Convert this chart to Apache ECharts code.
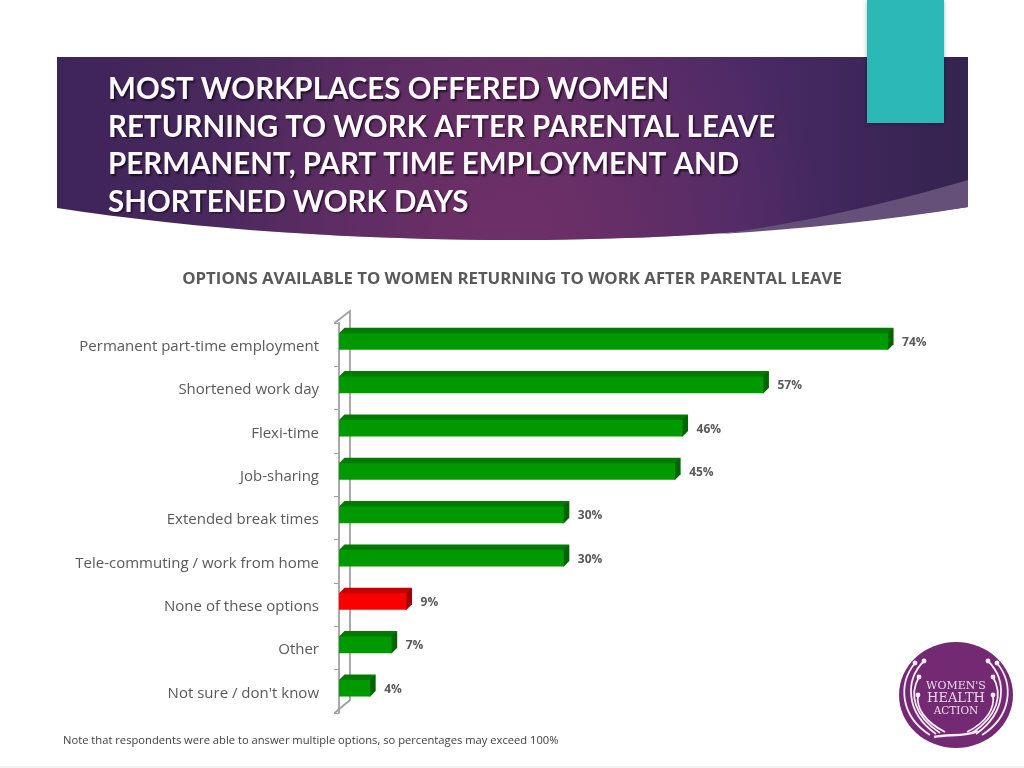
<!DOCTYPE html>
<html>
<head>
<meta charset="utf-8">
<title>Options available to women returning to work</title>
<script src="https://cdn.jsdelivr.net/npm/echarts@6/dist/echarts.min.js"></script>
<style>
  html, body { margin: 0; padding: 0; background: #fff; }
  #main { width: 1024px; height: 768px; }
</style>
</head>
<body>
<div id="main"></div>
<script>
var categories = [
  'Permanent part-time employment',
  'Shortened work day',
  'Flexi-time',
  'Job-sharing',
  'Extended break times',
  'Tele-commuting / work from home',
  'None of these options',
  'Other',
  "Not sure / don't know"
];
// labels show them rounded
var percentages = [74, 57.2, 46.3, 45.3, 30.3, 30.3, 9.1, 7.1, 4.2];
var highlighted = 'None of these options';

var headline = [
  'MOST WORKPLACES OFFERED WOMEN',
  'RETURNING TO WORK AFTER PARENTAL LEAVE',
  'PERMANENT, PART TIME EMPLOYMENT AND',
  'SHORTENED WORK DAYS'
];
var chartTitle = 'OPTIONS AVAILABLE TO WOMEN RETURNING TO WORK AFTER PARENTAL LEAVE';
var footnote = 'Note that respondents were able to answer multiple options, so percentages may exceed 100%';
var logoLines = ["WOMEN'S", 'HEALTH', 'ACTION'];

var green = { front: '#009a00', top: '#007a00', side: '#006400' };
var red = { front: '#fb0000', top: '#c80000', side: '#a00000' };
var depth = 5.5;

// 3d looking bar, drawn from the axis scales
function renderBar(params, api) {
  var i = api.value(1);
  var start = api.coord([0, i]);
  var end = api.coord([api.value(0), i]);
  var top = start[1] - 11.4;
  var h = 16.6;
  var c = categories[i] === highlighted ? red : green;
  return {
    type: 'group',
    children: [
      // top and side run 1px under the front face so no seam shows
      { type: 'polygon', shape: { points: [[start[0], top + 1], [start[0], top], [start[0] + depth, top - depth], [end[0] + depth, top - depth], [end[0], top + 1]] }, style: { fill: c.top } },
      { type: 'polygon', shape: { points: [[end[0] - 1, top], [end[0] + depth, top - depth], [end[0] + depth, top + h - depth], [end[0], top + h], [end[0] - 1, top + h]] }, style: { fill: c.side } },
      { type: 'rect', shape: { x: start[0], y: top, width: end[0] - start[0], height: h }, style: { fill: c.front } },
      { type: 'text', x: end[0] + 14, y: top + h / 2 + 1, style: { text: Math.round(api.value(0)) + '%', font: 'bold 12px "Open Sans"', fill: '#595959', verticalAlign: 'middle' } }
    ]
  };
}

// decoration around the chart: header band, tab, logo
function logoArc(d, w) {
  return { type: 'path', shape: { pathData: d }, style: { fill: 'none', stroke: '#f6ecf6', lineWidth: w || 1.8 } };
}
function logoDot(x, y) {
  return { type: 'circle', shape: { cx: x, cy: y, r: 2.4 }, style: { fill: '#f6ecf6' } };
}

var bandPath = 'M57 57 L968 57 L968 207 C800 232 640 240 520 240 C360 240 200 230 57 208 Z';

function renderDecor() {
  return {
    type: 'group',
    children: [
      { type: 'rect', shape: { x: 0, y: 766, width: 1024, height: 2 }, style: { fill: '#f0f0f0' } },
      {
        type: 'path',
        shape: { pathData: bandPath },
        style: {
          fill: new echarts.graphic.LinearGradient(0, 0, 1, 0, [
            { offset: 0, color: '#3e2459' },
            { offset: 0.28, color: '#4f2a5f' },
            { offset: 0.5, color: '#5a2c63' },
            { offset: 0.75, color: '#4a2a66' },
            { offset: 1, color: '#34234f' }
          ])
        }
      },
      {
        // glow rising from the bottom middle of the band
        type: 'path',
        shape: { pathData: bandPath },
        style: {
          fill: new echarts.graphic.RadialGradient(0.5, 1, 1.7, [
            { offset: 0, color: 'rgba(112,48,104,0.95)' },
            { offset: 1, color: 'rgba(112,48,104,0)' }
          ])
        }
      },
      {
        type: 'path',
        shape: { pathData: 'M720 234 C810 222 900 200 968 180 L968 207 C890 220 800 229 720 234 Z' },
        style: { fill: '#65507a' }
      },
      {
        type: 'rect',
        shape: { x: 867, y: 0, width: 77, height: 123 },
        style: { fill: '#2cb8b5', shadowColor: 'rgba(0,0,0,0.3)', shadowBlur: 4, shadowOffsetY: 1 }
      },
      // back wall of the 3d axis
      {
        type: 'polyline',
        shape: { points: [[334.5, 323], [350, 311], [350, 700], [334.5, 713]] },
        style: { fill: 'none', stroke: '#a0a0a0', lineWidth: 1.8 }
      },
      { type: 'ellipse', shape: { cx: 956, cy: 695, rx: 57, ry: 53 }, style: { fill: '#732a72' } },
      logoArc('M924 661 C905 680 905 712 936 734'),
      logoArc('M915 663 C898 684 900 716 930 735'),
      logoArc('M919 677 C909 694 914 716 940 733'),
      logoArc('M918 695 C916 708 925 722 945 732'),
      logoArc('M988 661 C1007 680 1007 712 976 734'),
      logoArc('M997 663 C1014 684 1012 716 982 735'),
      logoArc('M993 677 C1003 694 998 716 972 733'),
      logoArc('M993 695 C995 708 987 722 967 732'),
      logoArc('M934 737 C948 734 965 737 978 731', 2.4),
      logoDot(924, 661), logoDot(915, 663), logoDot(919, 677), logoDot(918, 695),
      logoDot(988, 661), logoDot(997, 663), logoDot(993, 677), logoDot(993, 695),
      { type: 'text', x: 956, y: 686, style: { text: logoLines[0], font: '11px "DejaVu Serif"', fill: '#ecd9eb', align: 'center', verticalAlign: 'middle' } },
      { type: 'text', x: 956, y: 699, style: { text: logoLines[1], font: '13px "DejaVu Serif"', fill: '#ecd9eb', align: 'center', verticalAlign: 'middle' } },
      { type: 'text', x: 956, y: 711, style: { text: logoLines[2], font: '10.5px "DejaVu Serif"', fill: '#ecd9eb', align: 'center', verticalAlign: 'middle' } }
    ]
  };
}

var myChart = echarts.init(document.getElementById('main'));
myChart.setOption({
  animation: false,
  backgroundColor: '#fff',
  title: [
    {
      text: headline.join('\n'),
      left: 103,
      top: 66,
      z: 10,
      textStyle: {
        fontFamily: 'Lato',
        fontWeight: 'bold',
        fontSize: 29.5,
        lineHeight: 37.5,
        color: '#fdf9fd',
        textShadowColor: 'rgba(0,0,0,0.65)',
        textShadowBlur: 2,
        textShadowOffsetX: 1.5,
        textShadowOffsetY: 1.5
      }
    },
    {
      text: chartTitle,
      left: 507,
      textAlign: 'center',
      top: 266,
      textStyle: { fontFamily: 'Open Sans', fontWeight: 'bold', fontSize: 16.8, color: '#595959' }
    },
    {
      text: footnote,
      left: 58,
      top: 730,
      textStyle: { fontFamily: 'Open Sans', fontWeight: 'normal', fontSize: 11.2, color: '#404040' }
    }
  ],
  grid: { left: 339, right: 91.4, top: 323, bottom: 55 },
  xAxis: { type: 'value', min: 0, max: 80, show: false },
  yAxis: {
    type: 'category',
    inverse: true,
    data: categories,
    offset: 4.5,
    axisLine: { show: true, lineStyle: { color: '#a0a0a0', width: 1.8 } },
    axisTick: { show: true, length: 5, lineStyle: { color: '#a0a0a0' } },
    axisLabel: {
      margin: 15.5,
      formatter: '{name|{value}}',
      rich: { name: { padding: [4, 0, 0, 0], fontFamily: 'Open Sans', fontSize: 15, color: '#595959' } }
    }
  },
  series: [
    {
      type: 'custom',
      coordinateSystem: 'none',
      renderItem: renderDecor,
      data: [[0]],
      silent: true,
      z: 1
    },
    {
      type: 'custom',
      renderItem: renderBar,
      encode: { x: 0, y: 1 },
      data: percentages.map(function (v, i) { return [v, i]; }),
      z: 5
    }
  ]
});
</script>
</body>
</html>
